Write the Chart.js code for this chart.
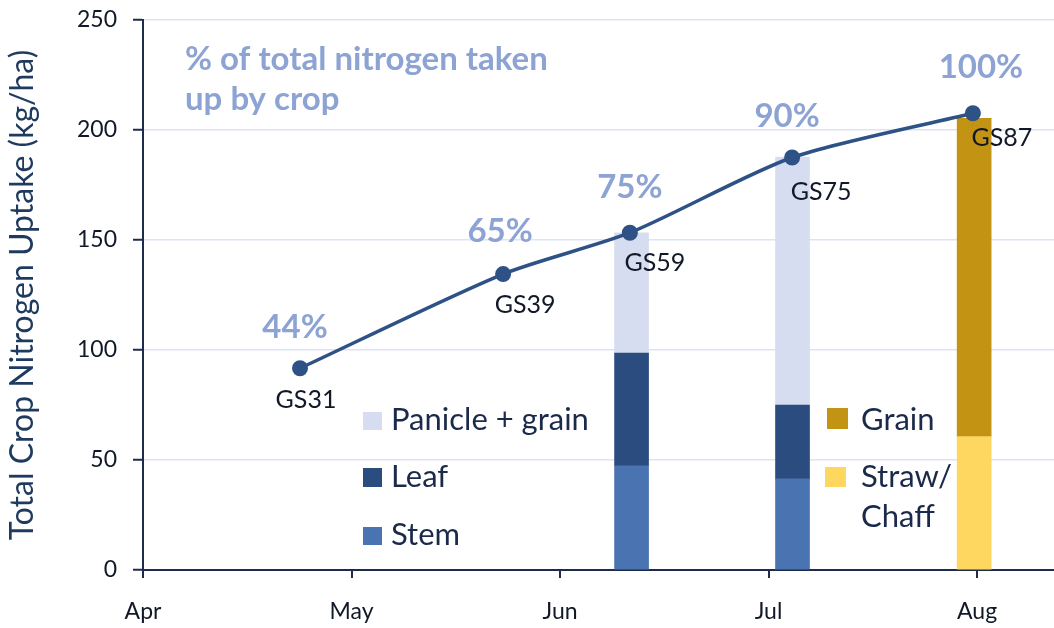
<!DOCTYPE html>
<html><head><meta charset="utf-8">
<script src="https://cdn.jsdelivr.net/npm/chart.js@4.4.1/dist/chart.umd.min.js"></script>
<style>html,body{margin:0;padding:0;background:#fff}#wrap{width:1054px;height:628px;position:relative}</style>
</head><body><div id="wrap"><canvas id="c" width="1054" height="628"></canvas></div>
<script>
// ---- data ----
const monthLabels = ['Apr', 'May', 'Jun', 'Jul', 'Aug'];
const monthPositions = [0, 1, 2, 3, 4];
const stageLabels = ['GS31', 'GS39', 'GS59', 'GS75', 'GS87'];
const stageX = [0.753, 1.727, 2.335, 3.113, 3.98];
const totalUptake = [91.7, 134.5, 153.3, 187.5, 207.6];
const percentLabels = ['44%', '65%', '75%', '90%', '100%'];
const vegBarX = [2.343, 3.115];
const stemValues = [47.4, 41.4];
const leafValues = [51.2, 33.6];
const panicleValues = [54.7, 112.7];
const harvestBarX = [3.986];
const strawValues = [60.6];
const grainValues = [144.7];
const yTicks = [0, 50, 100, 150, 200, 250];

// ---- styles / layout ----
const FONT = 'Lato, "Open Sans", sans-serif';
const C = {
  line: '#2e5286', stem: '#4a73b1', leaf: '#2b4c7e', panicle: '#d7ddf0',
  grain: '#c39314', straw: '#fdd760', pct: '#8da3d3', axis: '#1e2c4c',
  grid: '#dde3f3', text: '#111827', navy: '#1b2a4a'
};
const stageOffsets = [[6, 32], [22, 31], [25, 30], [29, 34], [29, 25]];
const pctOffsets = [[-5, -41], [-3, -43], [0, -45], [-5, -41], [8, -46]];
const legendLayout = {
  'Panicle + grain': {box: [363, 412, 19, 18], text: [[391, 430]]},
  'Leaf': {box: [363, 468, 19, 19], text: [[391, 487]]},
  'Stem': {box: [363, 527, 19, 18], text: [[391, 545]]},
  'Grain': {box: [827, 408, 21, 21], text: [[861, 430]]},
  'Straw/ Chaff': {box: [825, 467, 21, 20], text: [[861, 487], [861, 527]], lines: ['Straw/', 'Chaff']}
};

const pts = (xs, ys) => xs.map((x, i) => ({x: x, y: ys[i]}));

const labelsPlugin = {
  id: 'customLabels',
  afterDatasetsDraw(chart) {
    const ctx = chart.ctx;
    ctx.save();
    ctx.fillStyle = C.pct;
    ctx.font = 'bold 33px ' + FONT;
    ctx.textAlign = 'left';
    ctx.textBaseline = 'alphabetic';
    ctx.fillText('% of total nitrogen taken', 185, 70);
    ctx.fillText('up by crop', 185, 110);
    const meta = chart.getDatasetMeta(0);
    meta.data.forEach((p, i) => {
      ctx.textAlign = 'center';
      ctx.textBaseline = 'middle';
      ctx.fillStyle = C.pct;
      ctx.font = 'bold 33px ' + FONT;
      ctx.fillText(percentLabels[i], p.x + pctOffsets[i][0], p.y + pctOffsets[i][1]);
      ctx.fillStyle = C.text;
      ctx.font = '25px ' + FONT;
      ctx.fillText(stageLabels[i], p.x + stageOffsets[i][0], p.y + stageOffsets[i][1]);
    });
    chart.data.datasets.forEach(ds => {
      const L = legendLayout[ds.label];
      if (!L) return;
      ctx.fillStyle = ds.backgroundColor;
      ctx.fillRect(L.box[0], L.box[1], L.box[2], L.box[3]);
      ctx.fillStyle = C.navy;
      ctx.font = '31px ' + FONT;
      ctx.textAlign = 'left';
      ctx.textBaseline = 'alphabetic';
      const lines = L.lines || [ds.label];
      lines.forEach((t, j) => ctx.fillText(t, L.text[j][0], L.text[j][1]));
    });
    ctx.restore();
  }
};

new Chart(document.getElementById('c'), {
  data: {
    datasets: [
      {type: 'line', label: 'Total uptake', data: pts(stageX, totalUptake), borderColor: C.line,
       backgroundColor: C.line, borderWidth: 3.5, pointRadius: 7, pointBorderWidth: 2,
       pointBackgroundColor: C.line, tension: 0.25, order: 0},
      {type: 'bar', label: 'Stem', data: pts(vegBarX, stemValues), backgroundColor: C.stem, barThickness: 34, order: 1},
      {type: 'bar', label: 'Leaf', data: pts(vegBarX, leafValues), backgroundColor: C.leaf, barThickness: 34, order: 1},
      {type: 'bar', label: 'Panicle + grain', data: pts(vegBarX, panicleValues), backgroundColor: C.panicle, barThickness: 34, order: 1},
      {type: 'bar', label: 'Straw/ Chaff', data: pts(harvestBarX, strawValues), backgroundColor: C.straw, barThickness: 34, order: 1},
      {type: 'bar', label: 'Grain', data: pts(harvestBarX, grainValues), backgroundColor: C.grain, barThickness: 34, order: 1}
    ]
  },
  options: {
    responsive: false, animation: false, devicePixelRatio: 1,
    layout: {autoPadding: false, padding: {top: 20, right: 0, left: 0, bottom: 0}},
    plugins: {legend: {display: false}, tooltip: {enabled: false}},
    scales: {
      x: {
        type: 'linear', stacked: true, min: 0, max: 4.369, offset: false,
        afterBuildTicks: s => { s.ticks = monthPositions.map(v => ({value: v})); },
        afterFit: s => { s.height = 58; s.paddingLeft = 0; s.paddingRight = 0; },
        ticks: {callback: (v) => monthLabels[monthPositions.indexOf(v)] || '', color: C.text,
                font: {family: FONT, size: 23}, padding: 20, maxRotation: 0},
        grid: {offset: false, drawOnChartArea: false, drawTicks: true, tickLength: 8, color: C.axis, lineWidth: 2},
        border: {color: C.axis, width: 2}
      },
      y: {
        stacked: true, min: 0, max: 250,
        afterBuildTicks: s => { s.ticks = yTicks.map(v => ({value: v})); },
        afterFit: s => { s.width = 143; s.paddingTop = 0; s.paddingBottom = 0; },
        ticks: {color: C.text, font: {family: FONT, size: 23}, padding: 16},
        grid: {color: C.grid, lineWidth: 1.5, tickLength: 10, tickColor: C.axis, tickWidth: 2},
        border: {color: C.axis, width: 2},
        title: {display: true, text: 'Total Crop Nitrogen Uptake (kg/ha)', color: '#1f3a5f',
                font: {family: FONT, size: 32}, padding: {top: 3, bottom: 0}}
      }
    }
  },
  plugins: [labelsPlugin]
});
</script></body></html>
